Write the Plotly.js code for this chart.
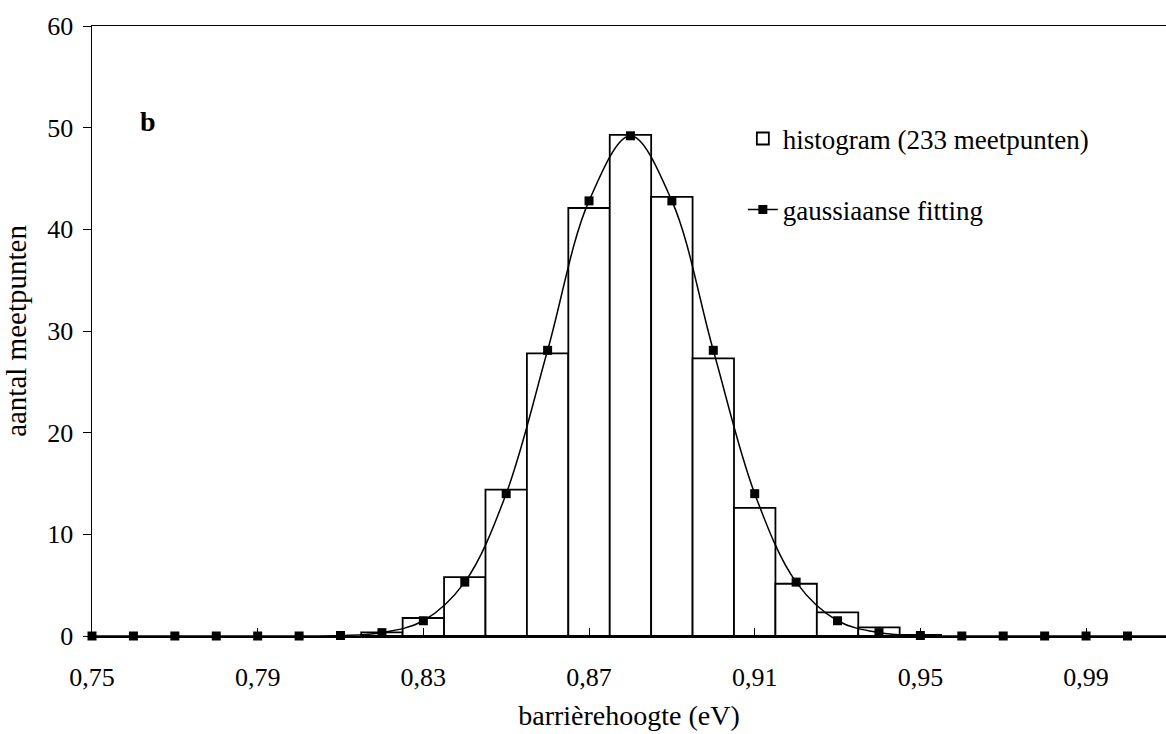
<!DOCTYPE html>
<html>
<head>
<meta charset="utf-8">
<script src="https://cdn.plot.ly/plotly-3.0.1.min.js"></script>
<style>html,body{margin:0;padding:0;background:#fff;}#chart{width:1166px;height:734px;}</style>
</head>
<body>
<div id="chart"></div>
<script>
// Histogram bins (centres, eV) and counts
const binCentres = [0.82, 0.83, 0.84, 0.85, 0.86, 0.87, 0.88, 0.89, 0.90, 0.91, 0.92, 0.93, 0.94, 0.95];
const binCounts  = [0.35, 1.77, 5.8, 14.4, 27.8, 42.1, 49.3, 43.2, 27.3, 12.6, 5.14, 2.32, 0.85, 0.1];

// Gaussian fit points
const fitX = [0.75, 0.76, 0.77, 0.78, 0.79, 0.80, 0.81, 0.82, 0.83, 0.84, 0.85, 0.86, 0.87, 0.88,
              0.89, 0.90, 0.91, 0.92, 0.93, 0.94, 0.95, 0.96, 0.97, 0.98, 0.99, 1.00, 1.01];
const fitY = [0, 0, 0, 0, 0, 0, 0.05, 0.33, 1.5, 5.3, 14.0, 28.1, 42.8, 49.2,
              42.8, 28.1, 14.0, 5.3, 1.5, 0.33, 0.05, 0, 0, 0, 0, 0, 0];

const xTicks = [0.75, 0.79, 0.83, 0.87, 0.91, 0.95, 0.99];
const xTickText = ['0,75', '0,79', '0,83', '0,87', '0,91', '0,95', '0,99'];
const yTicks = [0, 10, 20, 30, 40, 50, 60];

const serif = 'Liberation Serif';
const xRange = [0.75, 1.0093];
const yRange = [0, 60];

const traces = [
  {
    type: 'bar', x: binCentres, y: binCounts, width: 0.01,
    name: 'histogram (233 meetpunten)',
    marker: {color: '#ffffff', line: {color: '#000000', width: 1.8}},
    legendgroup: 'a', hoverinfo: 'x+y'
  },
  {
    type: 'scatter', mode: 'lines+markers', x: fitX, y: fitY,
    name: 'gaussiaanse fitting',
    line: {color: '#000000', width: 1.5, shape: 'spline', smoothing: 1},
    marker: {symbol: 'square', size: 9, color: '#000000'},
    cliponaxis: false, legendgroup: 'b'
  }
];

const layout = {
  width: 1166, height: 734,
  paper_bgcolor: '#ffffff', plot_bgcolor: '#ffffff',
  margin: {l: 92, r: 0, t: 26, b: 98},
  font: {family: serif, size: 26, color: '#000000'},
  showlegend: true,
  legend: {
    x: 0.606, y: 0.855, xanchor: 'left', yanchor: 'top',
    bgcolor: 'rgba(0,0,0,0)', borderwidth: 0,
    font: {family: serif, size: 27, color: '#000'},
    traceorder: 'grouped', tracegroupgap: 33, itemwidth: 30
  },
  xaxis: {
    range: xRange, tickvals: xTicks, ticktext: xTickText,
    ticks: 'inside', ticklen: 8, tickwidth: 1, tickcolor: '#000',
    showline: true, linecolor: '#000', linewidth: 1.5, mirror: true,
    showgrid: false, zeroline: false, ticklabelstandoff: 17,
    tickfont: {family: serif, size: 26},
    title: {text: 'barrièrehoogte (eV)', font: {family: serif, size: 28}, standoff: 14}
  },
  yaxis: {
    range: yRange, tickvals: yTicks,
    ticks: 'outside', ticklen: 8, tickwidth: 1, tickcolor: '#000',
    showline: true, linecolor: '#000', linewidth: 1.5,
    showgrid: false, zeroline: false, ticklabelstandoff: 4,
    tickfont: {family: serif, size: 26},
    title: {text: 'aantal meetpunten', font: {family: serif, size: 29}, standoff: 12}
  },
  xaxis2: {
    overlaying: 'x', range: xRange, tickvals: xTicks, showticklabels: false,
    ticks: 'outside', ticklen: 8, tickwidth: 1, tickcolor: '#000',
    showline: false, showgrid: false, zeroline: false, anchor: 'y'
  },
  yaxis2: {
    overlaying: 'y', range: yRange, tickvals: yTicks, showticklabels: false,
    ticks: 'inside', ticklen: 8, tickwidth: 1, tickcolor: '#000',
    showline: false, showgrid: false, zeroline: false, anchor: 'x', side: 'left'
  },
  annotations: [
    {text: '<b>b</b>', xref: 'paper', yref: 'paper', x: 0.052, y: 0.843,
     xanchor: 'center', yanchor: 'middle', showarrow: false,
     font: {family: serif, size: 28, color: '#000'}}
  ]
};

Plotly.newPlot('chart', traces, layout, {displayModeBar: false, staticPlot: true});
</script>
</body>
</html>
